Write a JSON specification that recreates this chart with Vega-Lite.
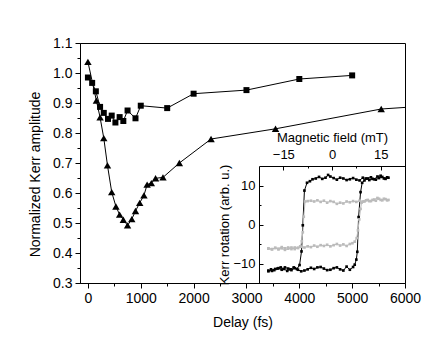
{
  "$schema": "https://vega.github.io/schema/vega-lite/v6.json",
  "width": 325,
  "height": 240,
  "autosize": "none",
  "padding": {"left": 80, "top": 43, "right": 31, "bottom": 69},
  "background": "white",
  "config": {
    "view": {"stroke": "black", "strokeWidth": 1},
    "font": "Liberation Sans",
    "axis": {"labelFont": "Liberation Sans", "titleFont": "Liberation Sans", "labelColor": "black", "titleColor": "black", "titleFontWeight": "normal", "domainColor": "black", "tickColor": "black", "grid": false, "labelOverlap": false, "labelFlush": false}
  },
  "datasets": {
    "main": [
      {"s": "sq", "delay": 0, "amp": 0.985}, {"s": "sq", "delay": 80, "amp": 0.967}, {"s": "sq", "delay": 150, "amp": 0.939}, {"s": "sq", "delay": 230, "amp": 0.887}, {"s": "sq", "delay": 300, "amp": 0.867}, {"s": "sq", "delay": 380, "amp": 0.847}, {"s": "sq", "delay": 450, "amp": 0.858}, {"s": "sq", "delay": 520, "amp": 0.835}, {"s": "sq", "delay": 600, "amp": 0.853}, {"s": "sq", "delay": 670, "amp": 0.84}, {"s": "sq", "delay": 750, "amp": 0.875}, {"s": "sq", "delay": 900, "amp": 0.849}, {"s": "sq", "delay": 1000, "amp": 0.891}, {"s": "sq", "delay": 1500, "amp": 0.883}, {"s": "sq", "delay": 2000, "amp": 0.931}, {"s": "sq", "delay": 3000, "amp": 0.943}, {"s": "sq", "delay": 4000, "amp": 0.98}, {"s": "sq", "delay": 5000, "amp": 0.992},
      {"s": "tri", "delay": 0, "amp": 1.037}, {"s": "tri", "delay": 160, "amp": 0.908}, {"s": "tri", "delay": 230, "amp": 0.852}, {"s": "tri", "delay": 300, "amp": 0.783}, {"s": "tri", "delay": 370, "amp": 0.692}, {"s": "tri", "delay": 450, "amp": 0.603}, {"s": "tri", "delay": 530, "amp": 0.555}, {"s": "tri", "delay": 600, "amp": 0.528}, {"s": "tri", "delay": 670, "amp": 0.511}, {"s": "tri", "delay": 750, "amp": 0.492}, {"s": "tri", "delay": 830, "amp": 0.513}, {"s": "tri", "delay": 900, "amp": 0.54}, {"s": "tri", "delay": 980, "amp": 0.567}, {"s": "tri", "delay": 1060, "amp": 0.592}, {"s": "tri", "delay": 1120, "amp": 0.628}, {"s": "tri", "delay": 1200, "amp": 0.633}, {"s": "tri", "delay": 1280, "amp": 0.649}, {"s": "tri", "delay": 1420, "amp": 0.652}, {"s": "tri", "delay": 1730, "amp": 0.70}, {"s": "tri", "delay": 2330, "amp": 0.78}, {"s": "tri", "delay": 3550, "amp": 0.814}, {"s": "tri", "delay": 5550, "amp": 0.88}, {"s": "tri", "delay": 7000, "amp": 0.897}
    ],
    "hyst": [
      {"l": "k", "i": 0, "f": -19.6, "r": -11.8}, {"l": "k", "i": 1, "f": -18.5, "r": -11.9}, {"l": "k", "i": 2, "f": -17.5, "r": -11.4}, {"l": "k", "i": 3, "f": -16.5, "r": -11.2}, {"l": "k", "i": 4, "f": -15.5, "r": -11.6}, {"l": "k", "i": 5, "f": -14.5, "r": -11.0}, {"l": "k", "i": 6, "f": -13.5, "r": -11.3}, {"l": "k", "i": 7, "f": -12.5, "r": -11.7}, {"l": "k", "i": 8, "f": -11.5, "r": -11.2}, {"l": "k", "i": 9, "f": -10.5, "r": -11.6}, {"l": "k", "i": 10, "f": -9.5, "r": -12.0}, {"l": "k", "i": 11, "f": -8.5, "r": -11.8}, {"l": "k", "i": 12, "f": -7.5, "r": -11.5}, {"l": "k", "i": 13, "f": -6.5, "r": -11.1}, {"l": "k", "i": 14, "f": -5.5, "r": -11.4}, {"l": "k", "i": 15, "f": -4.5, "r": -11.0}, {"l": "k", "i": 16, "f": -3.5, "r": -10.9}, {"l": "k", "i": 17, "f": -2.5, "r": -11.3}, {"l": "k", "i": 18, "f": -1.5, "r": -11.7}, {"l": "k", "i": 19, "f": -0.5, "r": -11.6}, {"l": "k", "i": 20, "f": 0.5, "r": -11.2}, {"l": "k", "i": 21, "f": 1.5, "r": -11.0}, {"l": "k", "i": 22, "f": 2.5, "r": -11.5}, {"l": "k", "i": 23, "f": 3.5, "r": -11.8}, {"l": "k", "i": 24, "f": 4.5, "r": -10.8}, {"l": "k", "i": 25, "f": 5.5, "r": -11.6}, {"l": "k", "i": 26, "f": 6.5, "r": -10.9}, {"l": "k", "i": 27, "f": 7.0, "r": -10.3}, {"l": "k", "i": 28, "f": 7.5, "r": -9.0}, {"l": "k", "i": 29, "f": 7.8, "r": -7.0}, {"l": "k", "i": 30, "f": 8.2, "r": 1.9}, {"l": "k", "i": 31, "f": 8.8, "r": 8.3}, {"l": "k", "i": 32, "f": 9.3, "r": 10.7}, {"l": "k", "i": 33, "f": 10, "r": 11.3}, {"l": "k", "i": 34, "f": 11, "r": 11.8}, {"l": "k", "i": 35, "f": 12, "r": 12.1}, {"l": "k", "i": 36, "f": 13, "r": 11.6}, {"l": "k", "i": 37, "f": 14, "r": 12.3}, {"l": "k", "i": 38, "f": 15, "r": 12.5}, {"l": "k", "i": 39, "f": 16, "r": 11.8}, {"l": "k", "i": 40, "f": 17, "r": 12.1}, {"l": "k", "i": 41, "f": 17.4, "r": 12.0}, {"l": "k", "i": 42, "f": 16.5, "r": 11.7}, {"l": "k", "i": 43, "f": 15.5, "r": 12.2}, {"l": "k", "i": 44, "f": 14.5, "r": 11.9}, {"l": "k", "i": 45, "f": 13.5, "r": 11.5}, {"l": "k", "i": 46, "f": 12.5, "r": 11.7}, {"l": "k", "i": 47, "f": 11.5, "r": 11.4}, {"l": "k", "i": 48, "f": 10.5, "r": 11.8}, {"l": "k", "i": 49, "f": 9.5, "r": 12.0}, {"l": "k", "i": 50, "f": 8.5, "r": 11.3}, {"l": "k", "i": 51, "f": 7.5, "r": 11.5}, {"l": "k", "i": 52, "f": 6.5, "r": 11.9}, {"l": "k", "i": 53, "f": 5.5, "r": 11.6}, {"l": "k", "i": 54, "f": 4.5, "r": 11.4}, {"l": "k", "i": 55, "f": 3.5, "r": 11.8}, {"l": "k", "i": 56, "f": 2.5, "r": 12.0}, {"l": "k", "i": 57, "f": 1.5, "r": 11.5}, {"l": "k", "i": 58, "f": 0.5, "r": 11.9}, {"l": "k", "i": 59, "f": -0.5, "r": 12.3}, {"l": "k", "i": 60, "f": -1.2, "r": 12.7}, {"l": "k", "i": 61, "f": -2, "r": 12.0}, {"l": "k", "i": 62, "f": -3, "r": 11.7}, {"l": "k", "i": 63, "f": -4, "r": 12.2}, {"l": "k", "i": 64, "f": -5, "r": 11.8}, {"l": "k", "i": 65, "f": -6, "r": 11.6}, {"l": "k", "i": 66, "f": -6.8, "r": 11.1}, {"l": "k", "i": 67, "f": -7.7, "r": 10.7}, {"l": "k", "i": 68, "f": -8.5, "r": 8.7}, {"l": "k", "i": 69, "f": -9.0, "r": -0.2}, {"l": "k", "i": 70, "f": -9.4, "r": -6.9}, {"l": "k", "i": 71, "f": -10.0, "r": -10.4}, {"l": "k", "i": 72, "f": -10.8, "r": -11.4}, {"l": "k", "i": 73, "f": -11.8, "r": -11.0}, {"l": "k", "i": 74, "f": -12.8, "r": -11.5}, {"l": "k", "i": 75, "f": -13.8, "r": -11.9}, {"l": "k", "i": 76, "f": -14.8, "r": -11.4}, {"l": "k", "i": 77, "f": -15.8, "r": -11.0}, {"l": "k", "i": 78, "f": -16.8, "r": -11.3}, {"l": "k", "i": 79, "f": -17.8, "r": -11.7}, {"l": "k", "i": 80, "f": -18.8, "r": -11.5}, {"l": "k", "i": 81, "f": -19.6, "r": -12.0},
      {"l": "g", "i": 0, "f": -19.6, "r": -6.2}, {"l": "g", "i": 1, "f": -18.5, "r": -6.4}, {"l": "g", "i": 2, "f": -17.5, "r": -6.0}, {"l": "g", "i": 3, "f": -16.5, "r": -6.2}, {"l": "g", "i": 4, "f": -15.5, "r": -5.8}, {"l": "g", "i": 5, "f": -14.5, "r": -6.1}, {"l": "g", "i": 6, "f": -13.5, "r": -5.9}, {"l": "g", "i": 7, "f": -12.5, "r": -6.3}, {"l": "g", "i": 8, "f": -11.5, "r": -5.9}, {"l": "g", "i": 9, "f": -10.5, "r": -6.0}, {"l": "g", "i": 10, "f": -9.5, "r": -5.7}, {"l": "g", "i": 11, "f": -8.5, "r": -5.9}, {"l": "g", "i": 12, "f": -7.5, "r": -5.6}, {"l": "g", "i": 13, "f": -6.5, "r": -5.8}, {"l": "g", "i": 14, "f": -5.5, "r": -5.4}, {"l": "g", "i": 15, "f": -4.5, "r": -5.7}, {"l": "g", "i": 16, "f": -3.5, "r": -5.3}, {"l": "g", "i": 17, "f": -2.5, "r": -5.5}, {"l": "g", "i": 18, "f": -1.5, "r": -5.2}, {"l": "g", "i": 19, "f": -0.5, "r": -5.6}, {"l": "g", "i": 20, "f": 0.5, "r": -5.3}, {"l": "g", "i": 21, "f": 1.5, "r": -5.0}, {"l": "g", "i": 22, "f": 2.5, "r": -5.4}, {"l": "g", "i": 23, "f": 3.5, "r": -5.1}, {"l": "g", "i": 24, "f": 4.5, "r": -5.5}, {"l": "g", "i": 25, "f": 5.5, "r": -5.0}, {"l": "g", "i": 26, "f": 6.3, "r": -4.8}, {"l": "g", "i": 27, "f": 7.0, "r": -4.4}, {"l": "g", "i": 28, "f": 7.6, "r": -3.5}, {"l": "g", "i": 29, "f": 8.0, "r": -1.5}, {"l": "g", "i": 30, "f": 8.4, "r": 1.3}, {"l": "g", "i": 31, "f": 8.8, "r": 4.0}, {"l": "g", "i": 32, "f": 9.1, "r": 5.6}, {"l": "g", "i": 33, "f": 10, "r": 5.9}, {"l": "g", "i": 34, "f": 11, "r": 6.3}, {"l": "g", "i": 35, "f": 12, "r": 6.0}, {"l": "g", "i": 36, "f": 13, "r": 6.4}, {"l": "g", "i": 37, "f": 14, "r": 6.8}, {"l": "g", "i": 38, "f": 15, "r": 6.3}, {"l": "g", "i": 39, "f": 16, "r": 6.6}, {"l": "g", "i": 40, "f": 17, "r": 6.2}, {"l": "g", "i": 41, "f": 17.4, "r": 6.3}, {"l": "g", "i": 42, "f": 16.5, "r": 6.5}, {"l": "g", "i": 43, "f": 15.5, "r": 6.2}, {"l": "g", "i": 44, "f": 14.5, "r": 6.6}, {"l": "g", "i": 45, "f": 13.5, "r": 6.1}, {"l": "g", "i": 46, "f": 12.5, "r": 6.3}, {"l": "g", "i": 47, "f": 11.5, "r": 6.0}, {"l": "g", "i": 48, "f": 10.5, "r": 6.2}, {"l": "g", "i": 49, "f": 9.5, "r": 5.9}, {"l": "g", "i": 50, "f": 8.5, "r": 6.1}, {"l": "g", "i": 51, "f": 7.5, "r": 5.8}, {"l": "g", "i": 52, "f": 6.5, "r": 6.0}, {"l": "g", "i": 53, "f": 5.5, "r": 5.7}, {"l": "g", "i": 54, "f": 4.5, "r": 5.9}, {"l": "g", "i": 55, "f": 3.5, "r": 5.4}, {"l": "g", "i": 56, "f": 2.5, "r": 5.6}, {"l": "g", "i": 57, "f": 1.5, "r": 5.3}, {"l": "g", "i": 58, "f": 0.5, "r": 5.8}, {"l": "g", "i": 59, "f": -0.5, "r": 6.0}, {"l": "g", "i": 60, "f": -1.5, "r": 5.6}, {"l": "g", "i": 61, "f": -2.5, "r": 6.1}, {"l": "g", "i": 62, "f": -3.5, "r": 5.8}, {"l": "g", "i": 63, "f": -4.5, "r": 6.2}, {"l": "g", "i": 64, "f": -5.5, "r": 5.9}, {"l": "g", "i": 65, "f": -6.5, "r": 6.1}, {"l": "g", "i": 66, "f": -7.5, "r": 6.0}, {"l": "g", "i": 67, "f": -8.3, "r": 5.9}, {"l": "g", "i": 68, "f": -8.7, "r": 2.0}, {"l": "g", "i": 69, "f": -9.0, "r": -2.0}, {"l": "g", "i": 70, "f": -9.3, "r": -4.3}, {"l": "g", "i": 71, "f": -9.8, "r": -5.6}, {"l": "g", "i": 72, "f": -10.5, "r": -6.0}, {"l": "g", "i": 73, "f": -11.5, "r": -6.3}, {"l": "g", "i": 74, "f": -12.5, "r": -5.9}, {"l": "g", "i": 75, "f": -13.5, "r": -6.2}, {"l": "g", "i": 76, "f": -14.5, "r": -6.5}, {"l": "g", "i": 77, "f": -15.5, "r": -6.1}, {"l": "g", "i": 78, "f": -16.5, "r": -6.4}, {"l": "g", "i": 79, "f": -17.5, "r": -6.0}, {"l": "g", "i": 80, "f": -18.5, "r": -6.3}, {"l": "g", "i": 81, "f": -19.6, "r": -6.1}
    ]
  },
  "layer": [
    {
      "data": {"name": "main"},
      "encoding": {
        "x": {"field": "delay", "type": "quantitative", "scale": {"domain": [-150, 6000], "nice": false, "zero": false},
          "axis": {"title": "Delay (fs)", "values": [0, 500, 1000, 1500, 2000, 2500, 3000, 3500, 4000, 4500, 5000, 5500, 6000], "format": "d", "labelExpr": "datum.value % 1000 === 0 ? datum.label : ''", "tickSize": {"condition": {"test": "datum.value % 1000 === 0", "value": 5}, "value": 3}, "labelFontSize": 14, "titleFontSize": 14, "labelPadding": 3, "titlePadding": 10}},
        "y": {"field": "amp", "type": "quantitative", "scale": {"domain": [0.3, 1.1], "nice": false, "zero": false},
          "axis": {"title": "Normalized Kerr amplitude", "values": [0.3, 0.35, 0.4, 0.45, 0.5, 0.55, 0.6, 0.65, 0.7, 0.75, 0.8, 0.85, 0.9, 0.95, 1.0, 1.05, 1.1], "format": ".1f", "labelExpr": "round(datum.value*100) % 10 === 0 ? datum.label : ''", "tickSize": {"condition": {"test": "round(datum.value*100) % 10 === 0", "value": 5}, "value": 3}, "labelFontSize": 14, "titleFontSize": 14, "labelPadding": 3, "titlePadding": 10, "titleY": 131}}
      },
      "layer": [
        {"mark": {"type": "line", "color": "black", "strokeWidth": 1, "clip": true}, "encoding": {"detail": {"field": "s"}}},
        {"transform": [{"filter": "datum.s === 'sq'"}], "mark": {"type": "point", "shape": "square", "filled": true, "opacity": 1, "color": "black", "size": 36, "clip": true}},
        {"transform": [{"filter": "datum.s === 'tri'"}], "mark": {"type": "point", "shape": "triangle-up", "filled": true, "opacity": 1, "color": "black", "size": 55, "clip": true}}
      ]
    },
    {
      "data": {"name": "hyst"},
      "encoding": {
        "x": {"field": "f", "type": "quantitative", "scale": {"domain": [-22.5, 22.5], "range": [179, 325], "nice": false, "zero": false},
          "axis": {"orient": "top", "offset": -123, "title": "Magnetic field (mT)", "values": [-15, -7.5, 0, 7.5, 15], "labelExpr": "datum.value % 15 === 0 ? datum.label : ''", "tickSize": {"condition": {"test": "datum.value % 15 === 0", "value": -4}, "value": -2}, "labelPadding": 9, "labelFontSize": 13, "titleFontSize": 13, "titlePadding": 2}},
        "y": {"field": "r", "type": "quantitative", "scale": {"domain": [-15, 15], "range": [240, 123], "nice": false, "zero": false},
          "axis": {"orient": "left", "offset": -179, "title": "Kerr rotation (arb. u.)", "values": [-10, -5, 0, 5, 10], "labelExpr": "datum.value % 10 === 0 ? datum.label : ''", "tickSize": {"condition": {"test": "datum.value % 10 === 0", "value": -4}, "value": -2}, "labelPadding": 8, "labelFontSize": 13, "titleFontSize": 13, "titlePadding": 1}},
        "order": {"field": "i", "type": "quantitative"},
        "color": {"field": "l", "type": "nominal", "scale": {"domain": ["g", "k"], "range": ["#bbbbbb", "#000000"]}, "legend": null}
      },
      "layer": [
        {"mark": {"type": "line", "strokeWidth": 1}},
        {"mark": {"type": "point", "shape": "square", "filled": true, "opacity": 1, "size": 7}}
      ]
    }
  ],
  "resolve": {"scale": {"x": "independent", "y": "independent", "color": "independent"}, "axis": {"x": "independent", "y": "independent"}}
}
